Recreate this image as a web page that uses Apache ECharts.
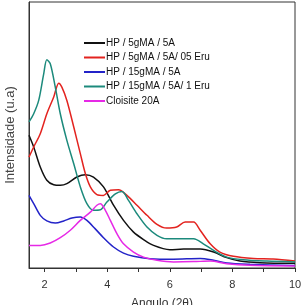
<!DOCTYPE html>
<html>
<head>
<meta charset="utf-8">
<script src="https://cdn.jsdelivr.net/npm/echarts@6/dist/echarts.min.js"></script>
<style>
  html, body { margin: 0; padding: 0; background: #fff; }
  #chart { width: 301px; height: 305px; }
</style>
</head>
<body>
<div id="chart"></div>
<script>
    // curve data: [angle 2θ, intensity]
    const names = ['HP / 5gMA / 5A', 'HP / 5gMA / 5A/ 05 Eru', 'HP / 15gMA / 5A', 'HP / 15gMA / 5A/ 1 Eru', 'Cloisite 20A'];
    const colors = ['#111111', '#e3231f', '#2323c8', '#1c8a7c', '#e629e6'];

    const black = [[1.5,49.9],[1.65,45.5],[1.86,38],[2.07,33],[2.29,31.3],[2.5,31.1],[2.71,31.7],[3.03,34.2],[3.3,35.1],[3.56,34.2],[3.88,30.5],[4.2,23.6],[4.52,17.9],[4.84,13.5],[5.16,10.7],[5.48,8.5],[6.0,6.9],[6.44,7.1],[6.97,7.1],[7.4,6],[7.82,3.9],[8.24,2.6],[8.88,2.0],[10,1.75]];
    const red = [[1.5,41.7],[1.65,45.5],[1.86,50.5],[2.07,58],[2.29,64.3],[2.45,69.5],[2.55,68],[2.71,63],[2.93,53],[3.14,43],[3.3,35.5],[3.46,30.5],[3.67,27.6],[3.88,27.3],[4.1,29.2],[4.36,29.4],[4.63,27.3],[4.95,23.6],[5.27,19.8],[5.59,16.4],[5.9,15],[6.22,15.4],[6.49,17.3],[6.76,17.3],[6.97,14.2],[7.29,9.1],[7.6,6],[8.03,4.4],[8.67,3.6],[9.3,3.4],[10,2.6]];
    const blue = [[1.5,27.3],[1.65,24.2],[1.86,19.8],[2.07,17.7],[2.34,16.9],[2.61,17.7],[2.87,18.8],[3.14,19.2],[3.35,17.9],[3.61,14.8],[3.88,11.4],[4.2,7.9],[4.52,5.6],[4.84,4.4],[5.37,3.5],[6.11,3.3],[6.97,3.6],[7.4,2.9],[7.82,1.9],[8.56,1.4],[10,0.9]];
    const teal = [[1.5,54.9],[1.65,58],[1.81,63],[1.97,73],[2.07,78.3],[2.18,76.8],[2.34,68],[2.5,58],[2.71,48],[2.93,39.2],[3.14,30.5],[3.35,24.2],[3.56,21.7],[3.78,21.9],[3.99,24.8],[4.26,27.9],[4.47,28.8],[4.68,25.4],[4.95,20.4],[5.27,15.4],[5.59,12.3],[5.9,11],[6.33,11],[6.76,11],[7.07,9.1],[7.4,6.6],[7.82,4.1],[8.35,3.1],[9.1,2.6],[10,2.3]];
    const magenta = [[1.5,8.5],[1.86,8.5],[2.18,9.4],[2.5,11.4],[2.82,14.2],[3.14,17.9],[3.46,21],[3.67,23.6],[3.78,24.2],[3.94,21.7],[4.1,17.9],[4.31,12.9],[4.52,9.1],[4.84,6],[5.16,4.1],[5.59,2.9],[6.12,2.3],[6.76,2.4],[7.29,2.6],[7.82,1.6],[8.56,1],[10,0.75]];

    const tickVals = [2, 3, 4, 5, 6, 7, 8, 9, 10];
    const labelVals = [2, 4, 6, 8, 10];

    const curves = [black, red, blue, teal, magenta];

    let myChart = echarts.init(document.getElementById('chart'));
    myChart.setOption({
        animation: false,
        grid: {
            left: 29,
            right: 6,
            top: 2,
            bottom: 37,
            outerBoundsMode: 'none',
            containLabel: false,
            show: true,
            borderColor: '#333',
            borderWidth: 1,
            backgroundColor: 'transparent'
        },
        legend: {
            orient: 'vertical',
            left: 84,
            top: 36,
            padding: 0,
            icon: 'rect',
            itemWidth: 21,
            itemHeight: 2,
            itemGap: 0.5,
            textStyle: {
                fontFamily: 'Liberation Sans, Arial, sans-serif',
                fontSize: 10,
                color: '#111',
                lineHeight: 14,
                padding: [0, 0, 0, -4]
            },
            data: names
        },
        xAxis: {
            type: 'value',
            min: 1.5,
            max: 10,
            name: 'Angulo (2θ)',
            nameLocation: 'middle',
            nameGap: 30,
            nameTextStyle: {
                fontFamily: 'Liberation Sans, Arial, sans-serif',
                fontSize: 12,
                color: '#333'
            },
            splitLine: {show: false},
            axisLine: {show: true, onZero: false, lineStyle: {color: '#333'}},
            axisTick: {
                show: true,
                length: 4,
                customValues: tickVals,
                lineStyle: {color: '#333'}
            },
            axisLabel: {
                customValues: labelVals,
                fontFamily: 'Liberation Sans, Arial, sans-serif',
                fontSize: 11,
                color: '#333',
                margin: 11
            }
        },
        yAxis: {
            type: 'value',
            min: 0,
            max: 100,
            name: 'Intensidade (u.a)',
            nameLocation: 'middle',
            nameGap: 12,
            nameTextStyle: {
                fontFamily: 'Liberation Sans, Arial, sans-serif',
                fontSize: 13,
                color: '#444'
            },
            splitLine: {show: false},
            axisLine: {show: true, lineStyle: {color: '#333'}},
            axisTick: {show: false},
            axisLabel: {show: false}
        },
        series: curves.map(function (d, i) {
            return {
                name: names[i],
                type: 'line',
                data: d,
                smooth: 0.3,
                showSymbol: false,
                lineStyle: {color: colors[i], width: 1.5},
                itemStyle: {color: colors[i]}
            };
        })
    });
</script>
</body>
</html>
